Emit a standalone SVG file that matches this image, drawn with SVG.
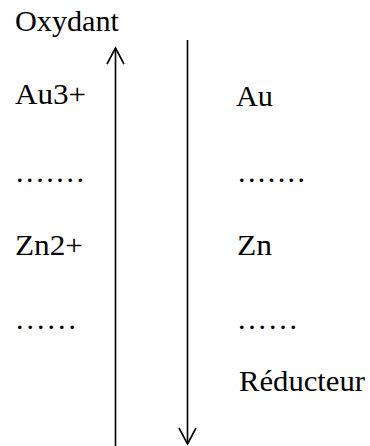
<svg xmlns="http://www.w3.org/2000/svg" width="370" height="446" viewBox="0 0 370 446">
<style>
.ln{stroke:#000;stroke-width:1.6;fill:none}
.t{font-family:'Liberation Serif','Times New Roman',serif;font-size:30px;fill:#000}
</style>
<defs>
<marker id="v" viewBox="-18 -11 20 22" markerWidth="20" markerHeight="22" refX="0" refY="0" markerUnits="userSpaceOnUse" orient="auto">
<path d="M-16,-8.5 L0,0 L-16,8.5" fill="none" stroke="#000" stroke-width="1.6"/>
</marker>
</defs>
<rect width="370" height="446" fill="#fff"/>
<g id="connectors">
<line class="ln" x1="115.5" y1="446" x2="115.5" y2="48" marker-end="url(#v)"/>
<line class="ln" x1="187.5" y1="40" x2="187.5" y2="444" marker-end="url(#v)"/>
</g>
<g id="oxydant"><text class="t" x="15" y="31" textLength="104" lengthAdjust="spacingAndGlyphs">Oxydant</text></g>
<g id="au3"><text class="t" x="15" y="104" textLength="71" lengthAdjust="spacingAndGlyphs">Au3+</text></g>
<g id="au"><text class="t" x="236" y="106" textLength="37" lengthAdjust="spacingAndGlyphs">Au</text></g>
<g id="dots1l"><text class="t" x="16" y="182" textLength="68" lengthAdjust="spacing">.......</text></g>
<g id="dots1r"><text class="t" x="238" y="182" textLength="67" lengthAdjust="spacing">.......</text></g>
<g id="zn2"><text class="t" x="15" y="255" textLength="68" lengthAdjust="spacingAndGlyphs">Zn2+</text></g>
<g id="zn"><text class="t" x="237" y="255" textLength="35" lengthAdjust="spacingAndGlyphs">Zn</text></g>
<g id="dots2l"><text class="t" x="16" y="329" textLength="60" lengthAdjust="spacing">......</text></g>
<g id="dots2r"><text class="t" x="238" y="329" textLength="59" lengthAdjust="spacing">......</text></g>
<g id="reducteur"><text class="t" x="239" y="391" textLength="126" lengthAdjust="spacingAndGlyphs">Réducteur</text></g>
</svg>
